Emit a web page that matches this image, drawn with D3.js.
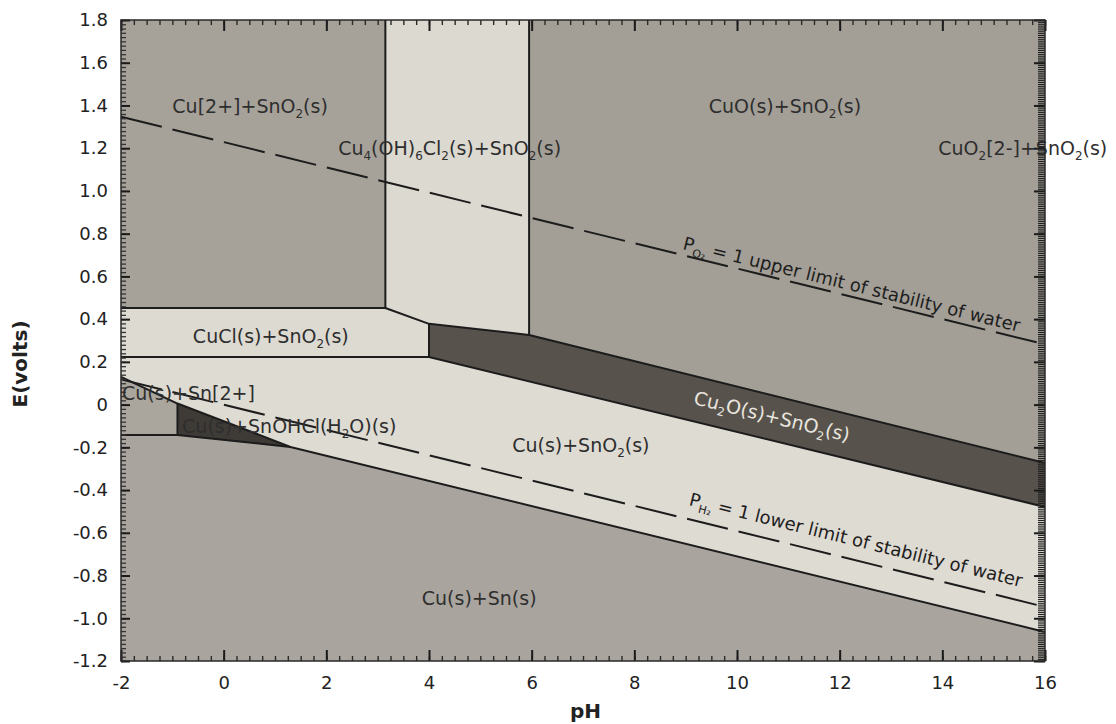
<!DOCTYPE html>
<html>
<head>
<meta charset="utf-8">
<script src="https://cdn.jsdelivr.net/npm/d3@7"></script>
<style>
  body { margin: 0; background: #fff; }
  svg { font-family: "DejaVu Sans", sans-serif; }
</style>
</head>
<body>
<svg width="1116" height="724"></svg>
<script>
// tick labels
const xTicks = [-2, 0, 2, 4, 6, 8, 10, 12, 14, 16];
const yTicks = [-1.2, -1.0, -0.8, -0.6, -0.4, -0.2, 0, 0.2, 0.4, 0.6, 0.8, 1.0, 1.2, 1.4, 1.6, 1.8];

// stability fields, corners as [pH, E]
const fieldCu2 = [[-2, 1.8], [3.15, 1.8], [3.15, 0.452], [-2, 0.452]];
const fieldCuHydroxyCl = [[3.15, 1.8], [5.95, 1.8], [5.95, 0.326], [4.0, 0.378], [3.15, 0.452]];
const fieldCuO = [[5.95, 1.8], [16, 1.8], [16, -0.273], [5.95, 0.326]];
const fieldCuCl = [[-2, 0.452], [3.15, 0.452], [4.0, 0.378], [4.0, 0.223], [-2, 0.223]];
const fieldCu2O = [[4.0, 0.378], [5.95, 0.326], [16, -0.273], [16, -0.479], [4.0, 0.223]];
const fieldCuSnO2 = [[-2, 0.223], [4.0, 0.223], [16, -0.479], [16, -1.064], [1.3, -0.198], [-0.9, 0.005], [-2, 0.13]];
const fieldCuSn2 = [[-2, 0.13], [-0.9, 0.005], [-0.9, -0.142], [-2, -0.142]];
const fieldCuSnOHCl = [[-0.9, 0.005], [1.3, -0.198], [-0.9, -0.142]];
const fieldCuSn = [[-2, -0.142], [-0.9, -0.142], [1.3, -0.198], [16, -1.064], [16, -1.2], [-2, -1.2]];

// boundary lines between fields
const boundaries = [
  [[3.15, 1.8], [3.15, 0.452]],
  [[-2, 0.452], [3.15, 0.452], [4.0, 0.378], [5.95, 0.326], [16, -0.273]],
  [[5.95, 1.8], [5.95, 0.326]],
  [[4.0, 0.378], [4.0, 0.223]],
  [[-2, 0.223], [4.0, 0.223], [16, -0.479]],
  [[-2, 0.13], [-0.9, 0.005], [1.3, -0.198], [16, -1.064]],
  [[-2, -0.142], [-0.9, -0.142], [1.3, -0.198]],
  [[-0.9, 0.005], [-0.9, -0.142]]
];

// water stability limits
const o2Line = [[-2, 1.347], [16, 0.282]];
const h2Line = [[-2, 0.118], [16, -0.947]];

// field labels: text, anchor [pH, E]
const labelText = [
  "Cu[2+]+SnO_2(s)", "Cu_4(OH)_6Cl_2(s)+SnO_2(s)", "CuO(s)+SnO_2(s)", "CuO_2[2-]+SnO_2(s)",
  "CuCl(s)+SnO_2(s)", "Cu(s)+SnO_2(s)", "Cu(s)+Sn[2+]", "Cu(s)+SnOHCl(H_2O)(s)", "Cu(s)+Sn(s)"
];
const labelAt = [
  [-1.0, 1.365], [2.23, 1.168], [9.45, 1.365], [13.92, 1.168],
  [-0.6, 0.288], [5.62, -0.222], [-1.98, 0.022], [-0.81, -0.133], [3.86, -0.938]
];
const cu2oLabel = "Cu_2O(s)+SnO_2(s)";
const cu2oLabelAt = [9.14, 0.003];
const o2Label = "P_{O₂} = 1 upper limit of stability of water";
const o2LabelAt = [8.93, 0.728];
const h2Label = "P_{H₂} = 1 lower limit of stability of water";
const h2LabelAt = [9.05, -0.47];

const fields = [
  {pts: fieldCu2, fill: "#a6a29a"},
  {pts: fieldCuHydroxyCl, fill: "#dcd9d1"},
  {pts: fieldCuO, fill: "#a39f97"},
  {pts: fieldCuCl, fill: "#dddad2"},
  {pts: fieldCu2O, fill: "#57524c"},
  {pts: fieldCuSnO2, fill: "#dedbd3"},
  {pts: fieldCuSn2, fill: "#aaa69e"},
  {pts: fieldCuSnOHCl, fill: "#3e3a36"},
  {pts: fieldCuSn, fill: "#a9a59e"}
];

const svg = d3.select("svg");
const margin = {top: 20, right: 71, bottom: 63, left: 121},
      width = +svg.attr("width") - margin.left - margin.right,
      height = +svg.attr("height") - margin.top - margin.bottom;

const g = svg.append("g").attr("transform", `translate(${margin.left},${margin.top})`);

const x = d3.scaleLinear().domain([-2, 16]).range([0, width]);
const y = d3.scaleLinear().domain([-1.2, 1.8]).range([height, 0]);

const line = d3.line()
    .x(d => x(d[0]))
    .y(d => y(d[1]));

g.selectAll("path.field")
    .data(fields)
    .enter().append("path")
    .attr("class", "field")
    .attr("d", d => line(d.pts) + "Z")
    .attr("fill", d => d.fill);

g.selectAll("path.bound")
    .data(boundaries)
    .enter().append("path")
    .attr("class", "bound")
    .attr("d", line)
    .attr("fill", "none")
    .attr("stroke", "#1c1c1c")
    .attr("stroke-width", 2)
    .attr("stroke-linejoin", "round");

[o2Line, h2Line].forEach(function(l) {
    g.append("path")
        .datum(l)
        .attr("d", line)
        .attr("fill", "none")
        .attr("stroke", "#1c1c1c")
        .attr("stroke-width", 2)
        .attr("stroke-dasharray", "42,11");
});

// text with _x or _{xy} subscripts
function rich(sel, str, subSize) {
    const parts = str.split(/(_\{[^}]*\}|_.)/).filter(s => s.length);
    let sub = false;
    parts.forEach(function(p) {
        if (p[0] === "_") {
            const t = p[1] === "{" ? p.slice(2, -1) : p.slice(1);
            sel.append("tspan").attr("font-size", subSize).attr("dy", sub ? 0 : 5).text(t);
            sub = true;
        } else {
            sel.append("tspan").attr("dy", sub ? -5 : 0).text(p);
            sub = false;
        }
    });
}

labelText.forEach(function(t, i) {
    const txt = g.append("text")
        .attr("x", x(labelAt[i][0]))
        .attr("y", y(labelAt[i][1]))
        .attr("font-size", 19)
        .attr("fill", "#2e2e2e");
    rich(txt, t, 12);
});

function slope(p0, p1) {
    return Math.atan2(y(p1[1]) - y(p0[1]), x(p1[0]) - x(p0[0])) * 180 / Math.PI;
}

function rotated(str, at, ang, size, color) {
    const px = x(at[0]), py = y(at[1]);
    const txt = g.append("text")
        .attr("transform", `translate(${px},${py}) rotate(${ang})`)
        .attr("font-size", size)
        .attr("fill", color);
    rich(txt, str, size * 0.62);
}

rotated(cu2oLabel, cu2oLabelAt, slope([4.0, 0.223], [16, -0.479]), 19, "#e9e6df");
rotated(o2Label, o2LabelAt, slope(o2Line[0], o2Line[1]), 18, "#1e1e1e");
rotated(h2Label, h2LabelAt, slope(h2Line[0], h2Line[1]), 18, "#1e1e1e");

// axes, ticks pointing inward
function styleAxis(a, col, sw) {
    a.select(".domain").remove();
    a.selectAll(".tick line").attr("stroke", col || "#1a1a1a").attr("stroke-width", sw || 2);
    a.selectAll("text").attr("font-size", 18).attr("font-family", "DejaVu Sans, sans-serif").attr("fill", "#222");
}

const xMinor = d3.range(-2, 16.01, 0.25);
const yMinor = d3.range(-1.2, 1.801, 0.02);

g.append("g")
    .attr("transform", `translate(0,${height})`)
    .call(d3.axisBottom(x).tickValues(xMinor).tickSize(-5).tickFormat(""))
    .call(styleAxis, "#2a2a2a", 1.4);
g.append("g")
    .attr("transform", `translate(0,${height})`)
    .call(d3.axisBottom(x).tickValues(xTicks).tickSize(-11).tickPadding(15).tickFormat(d => String(d)))
    .call(styleAxis);
g.append("g")
    .call(d3.axisTop(x).tickValues(xMinor).tickSize(-5).tickFormat(""))
    .call(styleAxis, "#2a2a2a", 1.4);
g.append("g")
    .call(d3.axisTop(x).tickValues(xTicks).tickSize(-11).tickFormat(""))
    .call(styleAxis);

g.append("g")
    .call(d3.axisLeft(y).tickValues(yMinor).tickSize(-5).tickFormat(""))
    .call(styleAxis, "#333", 1.3);
g.append("g")
    .call(d3.axisLeft(y).tickValues(yTicks).tickSize(-9).tickPadding(13)
        .tickFormat(d => d === 0 ? "0" : d.toFixed(1)))
    .call(styleAxis);

g.append("g")
    .attr("transform", `translate(${width},0)`)
    .call(d3.axisRight(y).tickValues(d3.range(-1.2, 1.801, 0.01)).tickSize(-7).tickFormat(""))
    .call(styleAxis, "#222", 1.2);
g.append("g")
    .attr("transform", `translate(${width},0)`)
    .call(d3.axisRight(y).tickValues(yTicks).tickSize(-11).tickFormat(""))
    .call(styleAxis);

g.append("rect")
    .attr("width", width)
    .attr("height", height)
    .attr("fill", "none")
    .attr("stroke", "#2a2a2a")
    .attr("stroke-width", 1.5);

svg.append("text")
    .attr("transform", `translate(27,${margin.top + y(0.19)}) rotate(-90)`)
    .attr("text-anchor", "middle")
    .attr("font-size", 20)
    .attr("font-weight", "bold")
    .attr("fill", "#222")
    .text("E(volts)");

svg.append("text")
    .attr("x", margin.left + x(7.05))
    .attr("y", 718)
    .attr("text-anchor", "middle")
    .attr("font-size", 20)
    .attr("font-weight", "bold")
    .attr("fill", "#222")
    .text("pH");
</script>
</body>
</html>
